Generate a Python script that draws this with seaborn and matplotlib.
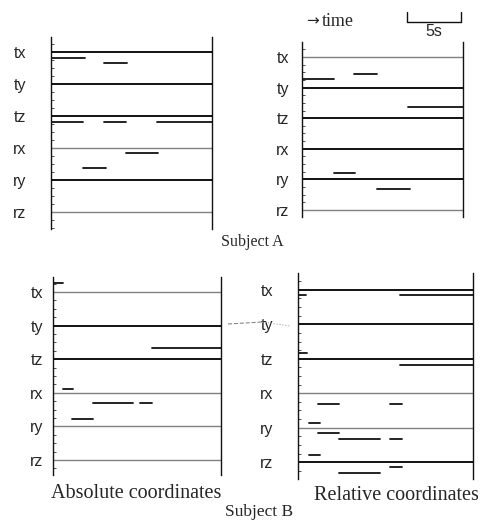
import pandas as pd
import matplotlib.pyplot as plt
import seaborn as sns

sns.set_theme(style="white")
plt.rcParams["font.family"] = ["Liberation Sans", "DejaVu Sans"]

W, H = 482, 524
channels = ["tx", "ty", "tz", "rx", "ry", "rz"]
t_end = 15

# segments: (channel, start s, end s, offset below the channel line, in rows)
seg_abs_a = [("tx", 0.1, 3.2, 0.19), ("tx", 4.9, 7.1, 0.34),
             ("tz", 0.1, 3.0, 0.19), ("tz", 4.9, 7.0, 0.19), ("tz", 9.9, 15, 0.19),
             ("rx", 7.0, 10.0, 0.16), ("rx", 3.0, 5.1, 0.62)]
seg_rel_a = [("tx", 0.1, 3.0, 0.72), ("tx", 4.8, 7.0, 0.56),
             ("ty", 9.9, 15, 0.65),
             ("rx", 3.0, 4.9, 0.80), ("ry", 7.0, 10.1, 0.30)]
seg_abs_b = [("tx", 0.0, 0.9, -0.27),
             ("ty", 8.8, 15, 0.67),
             ("rx", 0.9, 1.8, -0.10), ("rx", 3.6, 7.1, 0.30), ("rx", 7.8, 8.8, 0.30),
             ("rx", 1.7, 3.6, 0.77)]
seg_rel_b = [("tx", 0.0, 0.7, 0.15), ("tx", 8.7, 15, 0.15),
             ("tz", 0.0, 0.8, -0.17), ("tz", 8.7, 15, 0.17),
             ("rx", 1.7, 3.5, 0.32), ("rx", 7.9, 8.9, 0.32), ("rx", 0.9, 1.9, 0.85),
             ("ry", 1.7, 3.5, 0.15), ("ry", 3.5, 7.0, 0.32), ("ry", 7.9, 8.9, 0.32),
             ("ry", 0.9, 1.9, 0.79),
             ("rz", 3.5, 7.0, 0.32), ("rz", 7.9, 8.9, 0.15)]

# thin grey channel lines per panel (style only)
grey_a_abs = ["rx", "rz"]
grey_a_rel = ["tx", "rz"]
grey_b_abs = ["tx", "rx", "ry", "rz"]
grey_b_rel = ["rx", "ry"]

fig = plt.figure(figsize=(W / 100, H / 100), dpi=100)


def panel(px, segs, grey, ylim, pad):
    x0, x1, y0, y1 = px
    ax = fig.add_axes([x0 / W, 1 - y1 / H, (x1 - x0) / W, (y1 - y0) / H])
    rows = []
    for i, (ch, t0, t1, d) in enumerate(segs):
        y = channels.index(ch) + d
        rows.append({"seg": i, "t": t0, "y": y})
        rows.append({"seg": i, "t": t1, "y": y})
    df = pd.DataFrame(rows)
    sns.lineplot(data=df, x="t", y="y", units="seg", estimator=None, sort=False,
                 color="#111111", lw=1.3, legend=False, ax=ax)
    for i, ch in enumerate(channels):
        if ch in grey:
            ax.hlines(i, 0, t_end, color="#808080", lw=1.0)
        else:
            ax.hlines(i, 0, t_end, color="#111111", lw=1.4)
    ax.set_xlim(0, t_end)
    ax.set_ylim(*ylim)
    ax.set_yticks(range(len(channels)))
    ax.set_yticklabels(channels, fontsize=11.5)
    ax.set_xticks([])
    ax.set_xlabel("")
    ax.set_ylabel("")
    ax.yaxis.set_minor_locator(plt.MultipleLocator(0.25))
    ax.tick_params(axis="y", which="major", length=0, pad=pad)
    ax.tick_params(axis="y", which="minor", left=True, direction="in",
                   length=2, width=0.6, color="#333333")
    for s in ["top", "bottom"]:
        ax.spines[s].set_visible(False)
    for s in ["left", "right"]:
        ax.spines[s].set_color("#111111")
        ax.spines[s].set_linewidth(1.0)
    return ax


ax_tl = panel((51, 212, 37, 229), seg_abs_a, grey_a_abs, (5.53, -0.47), 18)
ax_tr = panel((302, 463, 42, 217), seg_rel_a, grey_a_rel, (5.23, -0.49), 9)
ax_bl = panel((53, 221, 277, 475), seg_abs_b, grey_b_abs, (5.45, -0.45), 7)
ax_br = panel((298, 473, 273, 479), seg_rel_b, grey_b_rel, (5.49, -0.49), 18)

# 5 s scale bar above the top-right panel
ax_tr.plot([9.8, 9.8, 14.8, 14.8], [-1.47, -1.14, -1.14, -1.47], color="#111111",
           lw=1.0, clip_on=False)
ax_tr.text(12.3, -0.82, "5s", fontsize=11.5, ha="center", va="center")

serif = ["Liberation Serif", "DejaVu Serif"]
fig.text(306 / W, 1 - 21 / H, "\u2192", family=["DejaVu Sans"], fontsize=11,
         ha="left", va="center")
fig.text(322 / W, 1 - 22 / H, "time", family=serif, fontsize=13, ha="left", va="center")
fig.text(252 / W, 1 - 242 / H, "Subject A", family=serif, fontsize=11.5, ha="center", va="center")
fig.text(136 / W, 1 - 493 / H, "Absolute coordinates", family=serif, fontsize=14.5,
         ha="center", va="center")
fig.text(396 / W, 1 - 495 / H, "Relative coordinates", family=serif, fontsize=14.5,
         ha="center", va="center")
fig.text(259 / W, 1 - 512 / H, "Subject B", family=serif, fontsize=12.5, ha="center", va="center")

# dashed link between the ty rows of subject B
fig.add_artist(plt.Line2D([228 / W, 262 / W], [1 - 324 / H, 1 - 322 / H], color="#888888",
                          lw=0.8, ls="--"))
fig.add_artist(plt.Line2D([262 / W, 290 / W], [1 - 322 / H, 1 - 326 / H], color="#aaaaaa",
                          lw=0.8, ls=":"))

fig.savefig("out.png", dpi=100)
